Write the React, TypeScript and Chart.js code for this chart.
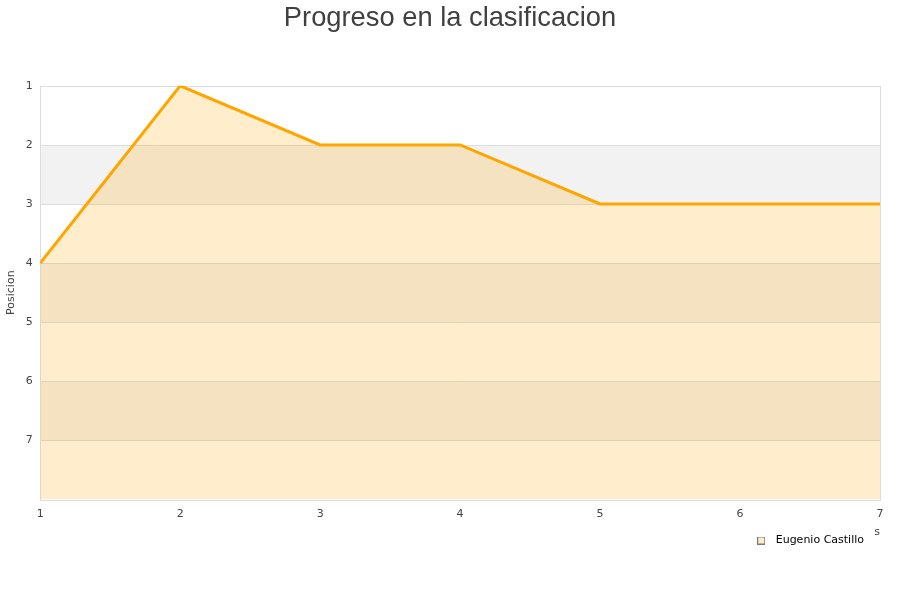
import React, { useEffect, useRef } from "react";
import { Chart, registerables } from "chart.js";

Chart.register(...registerables);

const jornadas = [1, 2, 3, 4, 5, 6, 7];
const posiciones = [4, 1, 2, 2, 3, 3, 3];
const jugador = "Eugenio Castillo";
const titulo = "Progreso en la clasificacion";
const tituloY = "Posicion";
const tituloX = "Partidos";
const bandasGrises = [[2, 3], [4, 5], [6, 7]];

// small square used as the legend marker
function legendMarker(): HTMLCanvasElement {
  const c = document.createElement("canvas");
  c.width = 8;
  c.height = 8;
  const g = c.getContext("2d")!;
  g.fillStyle = "#ffffff";
  g.fillRect(0, 0, 8, 8);
  g.fillStyle = "rgba(255,165,0,0.2)";
  g.fillRect(0, 0, 8, 8);
  g.strokeStyle = "#7a7a7a";
  g.lineWidth = 1;
  g.strokeRect(0.5, 0.5, 7, 7);
  return c;
}

const bandsPlugin = {
  id: "bands",
  beforeDatasetsDraw(chart: any) {
    const { ctx, chartArea } = chart;
    const y = chart.scales.y;
    ctx.save();
    ctx.fillStyle = "#f2f2f2";
    for (const [a, b] of bandasGrises) {
      const y1 = y.getPixelForValue(a);
      const y2 = y.getPixelForValue(b);
      ctx.fillRect(chartArea.left, Math.min(y1, y2), chartArea.right - chartArea.left, Math.abs(y2 - y1));
    }
    // horizontal grid lines
    ctx.strokeStyle = "#dddddd";
    ctx.lineWidth = 1;
    for (let v = 1; v <= 8; v++) {
      const py = Math.round(y.getPixelForValue(v)) + 0.5;
      ctx.beginPath();
      ctx.moveTo(chartArea.left, py);
      ctx.lineTo(chartArea.right, py);
      ctx.stroke();
    }
    ctx.strokeRect(Math.round(chartArea.left) + 0.5, Math.round(chartArea.top) + 0.5,
      Math.round(chartArea.right - chartArea.left), Math.round(chartArea.bottom - chartArea.top));
    ctx.restore();
  },
  afterDraw(chart: any) {
    // the legend sits on a white box above the x axis title
    const legend = chart.legend;
    if (!legend || !legend.legendHitBoxes || !legend.legendHitBoxes.length) return;
    const hb = legend.legendHitBoxes[0];
    const { ctx } = chart;
    ctx.save();
    ctx.fillStyle = "#ffffff";
    ctx.fillRect(hb.left + 1, legend.top + 1, hb.width + 10, 26);
    ctx.restore();
    legend.draw();
  },
};

export default function App() {
  const ref = useRef<HTMLCanvasElement | null>(null);
  useEffect(() => {
    if (!ref.current) return;
    const marker = legendMarker();
    const chart = new Chart(ref.current, {
      type: "line",
      data: {
        datasets: [
          {
            label: jugador,
            data: jornadas.map((j, i) => ({ x: j, y: posiciones[i] })),
            borderColor: "#ffa500",
            backgroundColor: "rgba(255,165,0,0.2)",
            borderWidth: 3,
            pointRadius: 0,
            tension: 0,
            fill: { value: 8 },
          },
        ],
      },
      options: {
        animation: false,
        responsive: false,
        layout: { padding: { left: 0, right: 0, top: 0, bottom: 44 } },
        plugins: {
          title: {
            display: true,
            text: titulo,
            color: "#404040",
            font: { family: "'Liberation Sans', Arial, sans-serif", size: 27.3, weight: "normal" },
            padding: { top: 2, bottom: 51 },
          },
          legend: {
            position: "bottom",
            align: "end",
            // empty legend title with negative padding keeps the row up while the wide label padding pulls it left
            title: {
              display: true,
              text: "",
              color: "#000000",
              font: { size: 1 },
              padding: { top: -27.2, bottom: 0 },
            },
            labels: {
              usePointStyle: true,
              pointStyleWidth: 18,
              padding: 36,
              color: "#000000",
              font: { family: "'DejaVu Sans', sans-serif", size: 11 },
              generateLabels: () => [
                {
                  text: jugador,
                  pointStyle: marker,
                  fontColor: "#000000",
                  fillStyle: "rgba(255,165,0,0.2)",
                  strokeStyle: "#777777",
                  lineWidth: 1,
                  datasetIndex: 0,
                } as any,
              ],
            },
          },
          tooltip: { enabled: false },
        },
        scales: {
          x: {
            type: "linear",
            min: 1,
            max: 7,
            grid: { display: false, drawTicks: false },
            border: { display: false },
            ticks: {
              stepSize: 1,
              z: -1,
              color: "#444444",
              padding: 8,
              font: { family: "'DejaVu Sans', sans-serif", size: 11 },
            },
            title: {
              display: true,
              text: tituloX,
              align: "end",
              color: "#444444",
              font: { family: "'DejaVu Sans', sans-serif", size: 11 },
              padding: { top: -3, bottom: -14 },
            },
          },
          y: {
            type: "linear",
            reverse: true,
            min: 1,
            max: 8,
            grid: { display: false, drawTicks: false },
            border: { display: false },
            ticks: {
              stepSize: 1,
              color: "#444444",
              padding: 7.5,
              font: { family: "'DejaVu Sans', sans-serif", size: 11 },
              callback: (v: any) => (v >= 8 ? "" : String(v)),
            },
            title: {
              display: true,
              text: tituloY,
              color: "#444444",
              font: { family: "'DejaVu Sans', sans-serif", size: 11 },
              padding: { top: 5, bottom: 0 },
            },
          },
          margenDerecho: {
            type: "linear",
            position: "right",
            display: true,
            grid: { display: false, drawTicks: false },
            border: { display: false },
            ticks: { display: false },
            afterFit: (s: any) => {
              s.width = 20;
            },
          },
        },
      },
      plugins: [bandsPlugin],
    });
    return () => chart.destroy();
  }, []);
  return (
    <div style={{ position: "fixed", left: 0, top: 0, width: 900, height: 600, background: "#ffffff" }}>
      <canvas ref={ref} width={900} height={600} />
    </div>
  );
}
